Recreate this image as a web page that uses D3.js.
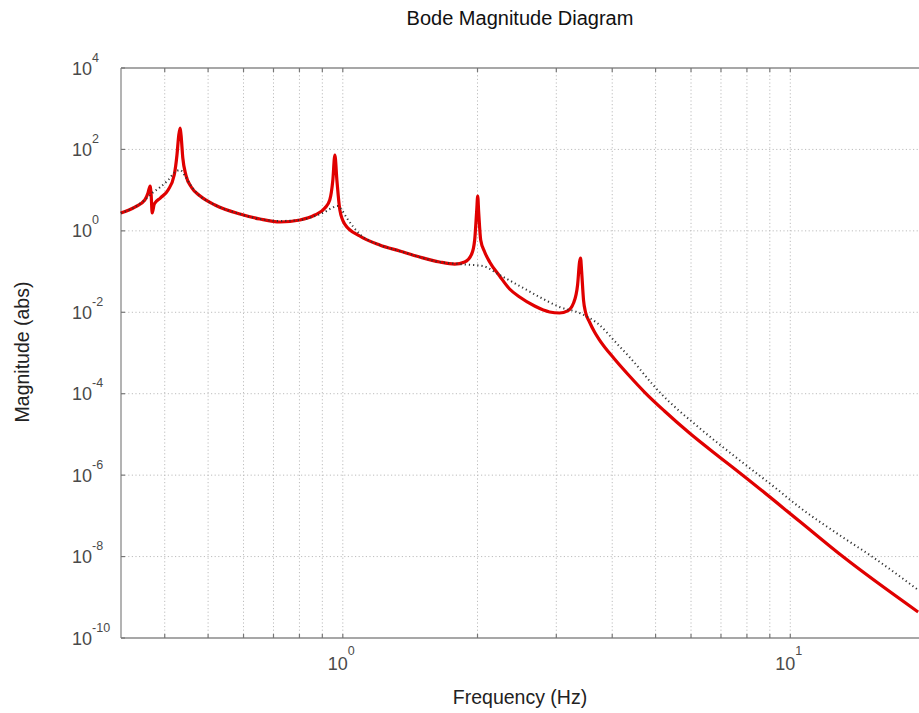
<!DOCTYPE html>
<html>
<head>
<meta charset="utf-8">
<script src="https://cdn.jsdelivr.net/npm/d3@7"></script>
<style>
  html, body { margin: 0; padding: 0; background: #fff; }
  svg { display: block; font-family: "Liberation Sans", Arial, sans-serif; }
</style>
</head>
<body>
<svg id="chart" width="919" height="713"></svg>
<script>
// ---- Data ----
const titleText = "Bode Magnitude Diagram";
const xLabelText = "Frequency (Hz)";
const yLabelText = "Magnitude (abs)";

const xDomain = [0.3194, 20];
const yDomain = [1e-10, 1e4];

const xGridValues = [0.4, 0.5, 0.6, 0.7, 0.8, 0.9, 1, 2, 3, 4, 5, 6, 7, 8, 9, 10, 20];
const xTickExponents = [0, 1];
const yTickExponents = [4, 2, 0, -2, -4, -6, -8, -10];

// Red: detailed response
const redFreq = [0.319, 0.343, 0.361, 0.367, 0.371, 0.373, 0.375, 0.379, 0.391, 0.407,
  0.420, 0.426, 0.430, 0.433, 0.435, 0.439, 0.446, 0.460, 0.480, 0.518,
  0.589, 0.653, 0.724, 0.802, 0.866, 0.912, 0.935, 0.950, 0.960, 0.970,
  0.985, 1.010, 1.091, 1.209, 1.340, 1.485, 1.646, 1.778, 1.872, 1.941,
  1.971, 1.992, 2.002, 2.012, 2.033, 2.075, 2.129, 2.241, 2.359, 2.484,
  2.683, 2.898, 3.051, 3.179, 3.278, 3.347, 3.381, 3.399, 3.416, 3.451,
  3.486, 3.559, 3.652, 3.748, 4.047, 4.371, 4.722, 5.233, 5.952, 6.942,
  7.816, 10.47, 13.06, 19.31];
const redMag = [2.75, 3.85, 5.73, 8.51, 12.6, 7.60, 2.75, 4.57, 6.41, 10.1,
  23.5, 73.0, 226, 336, 226, 61.5, 23.5, 11.3, 7.18, 4.32,
  2.59, 1.95, 1.65, 1.85, 2.45, 3.64, 5.73, 17.7, 73.0, 17.7,
  3.25, 1.47, 0.748, 0.450, 0.320, 0.228, 0.172, 0.153, 0.172, 0.270,
  0.596, 3.25, 7.18, 2.90, 0.596, 0.303, 0.172, 0.0778, 0.0373, 0.0237,
  0.01426, 0.01016, 0.00960, 0.0108, 0.0169, 0.0468, 0.172, 0.215, 0.109, 0.0200,
  0.01016, 0.00577, 0.00328, 0.00208, 7.12e-4, 2.72e-4, 1.10e-4, 3.76e-5, 1.08e-5, 2.79e-6,
  1.01e-6, 7.48e-8, 1.03e-8, 4.35e-10];

// Black dotted: smoothed / model response
const blackFreq = [0.319, 0.343, 0.361, 0.375, 0.391, 0.407, 0.422, 0.433, 0.444, 0.460,
  0.480, 0.518, 0.589, 0.653, 0.724, 0.802, 0.866, 0.912, 0.945, 0.975,
  0.995, 1.021, 1.091, 1.209, 1.340, 1.485, 1.646, 1.824, 2.054, 2.241,
  2.484, 2.753, 3.051, 3.381, 3.559, 3.748, 4.047, 4.371, 5.101, 6.266, 7.694,
  9.210, 10.47, 12.87, 15.17, 19.31];
const blackMag = [2.75, 3.85, 5.73, 8.51, 11.9, 17.7, 27.9, 31.2, 22.3, 11.9,
  7.18, 4.32, 2.59, 1.95, 1.75, 1.85, 2.32, 2.90, 3.64, 4.08,
  3.25, 2.07, 0.838, 0.450, 0.320, 0.228, 0.172, 0.153, 0.137, 0.0824,
  0.0443, 0.0237, 0.0135, 0.00960, 0.00724, 0.00487, 1.97e-3, 7.98e-4, 1.10e-4, 1.44e-5, 2.35e-6,
  5.12e-7, 1.65e-7, 3.39e-8, 1.03e-8, 1.51e-9];

// ---- Layout ----
const W = 919, H = 713;
const plot = { left: 121, top: 68, right: 925, bottom: 638 };

const svg = d3.select("#chart");

const x = d3.scaleLog().domain(xDomain).range([plot.left, plot.right]);
const y = d3.scaleLog().domain(yDomain).range([plot.bottom, plot.top]);

const gridColor = "#bdbdbd";
const axisColor = "#8a8a8a";
const textColor = "#4a4a4a";

// Grid
const grid = svg.append("g");
grid.selectAll("line.vg").data(xGridValues).join("line")
  .attr("x1", d => x(d)).attr("x2", d => x(d))
  .attr("y1", plot.top).attr("y2", plot.bottom)
  .attr("stroke", gridColor).attr("stroke-width", 1)
  .attr("stroke-dasharray", "1.2,2.4");
grid.selectAll("line.hg").data(yTickExponents.slice(1, -1)).join("line")
  .attr("x1", plot.left).attr("x2", plot.right)
  .attr("y1", d => y(Math.pow(10, d))).attr("y2", d => y(Math.pow(10, d)))
  .attr("stroke", gridColor).attr("stroke-width", 1)
  .attr("stroke-dasharray", "1.2,2.4");

// Frame
const frame = svg.append("g").attr("stroke", axisColor).attr("stroke-width", 1.3).attr("fill", "none");
frame.append("line").attr("x1", plot.left).attr("x2", plot.right).attr("y1", plot.top).attr("y2", plot.top);
frame.append("line").attr("x1", plot.left).attr("x2", plot.right).attr("y1", plot.bottom).attr("y2", plot.bottom);
frame.append("line").attr("x1", plot.left).attr("x2", plot.left).attr("y1", plot.top).attr("y2", plot.bottom);

// Ticks (inside)
const ticks = svg.append("g").attr("stroke", "#777").attr("stroke-width", 1.2);
xGridValues.forEach(v => {
  ticks.append("line").attr("x1", x(v)).attr("x2", x(v)).attr("y1", plot.bottom).attr("y2", plot.bottom - 4);
  ticks.append("line").attr("x1", x(v)).attr("x2", x(v)).attr("y1", plot.top).attr("y2", plot.top + 4);
});
yTickExponents.forEach(e => {
  ticks.append("line").attr("x1", plot.left).attr("x2", plot.left + 4)
    .attr("y1", y(Math.pow(10, e))).attr("y2", y(Math.pow(10, e)));
});

// Curves
const lineGen = (fs, ms) => d3.line()
  .x(i => x(fs[i])).y(i => y(ms[i]))
  .curve(d3.curveMonotoneX)(d3.range(fs.length));

svg.append("path")
  .attr("d", lineGen(redFreq, redMag))
  .attr("fill", "none").attr("stroke", "#e00000").attr("stroke-width", 3.2)
  .attr("stroke-linejoin", "round");

svg.append("path")
  .attr("d", lineGen(blackFreq, blackMag))
  .attr("fill", "none").attr("stroke", "#333").attr("stroke-width", 2)
  .attr("stroke-dasharray", "1.2,3").attr("stroke-linecap", "butt");

// Y tick labels
const yl = svg.append("g").attr("fill", textColor);
yTickExponents.forEach(e => {
  const yy = y(Math.pow(10, e));
  const t = yl.append("text").attr("x", 72).attr("y", yy + 6.5).attr("font-size", 18);
  t.append("tspan").text("10");
  t.append("tspan").attr("dy", -13).attr("font-size", 12.5).text(String(e));
});

// X tick labels
const xl = svg.append("g").attr("fill", textColor);
xTickExponents.forEach(e => {
  const xx = x(Math.pow(10, e));
  const t = xl.append("text").attr("x", xx - 15).attr("y", 670).attr("font-size", 18);
  t.append("tspan").text("10");
  t.append("tspan").attr("dy", -15).attr("font-size", 12.5).text(String(e));
});

// Title and axis labels
svg.append("text").attr("x", 520).attr("y", 25).attr("text-anchor", "middle")
  .attr("font-size", 20).attr("fill", "#111").text(titleText);
svg.append("text").attr("x", 520).attr("y", 704).attr("text-anchor", "middle")
  .attr("font-size", 19.5).attr("fill", "#222").text(xLabelText);
svg.append("text").attr("transform", "translate(29,352) rotate(-90)").attr("text-anchor", "middle")
  .attr("font-size", 19.5).attr("fill", "#222").text(yLabelText);
</script>
</body>
</html>
